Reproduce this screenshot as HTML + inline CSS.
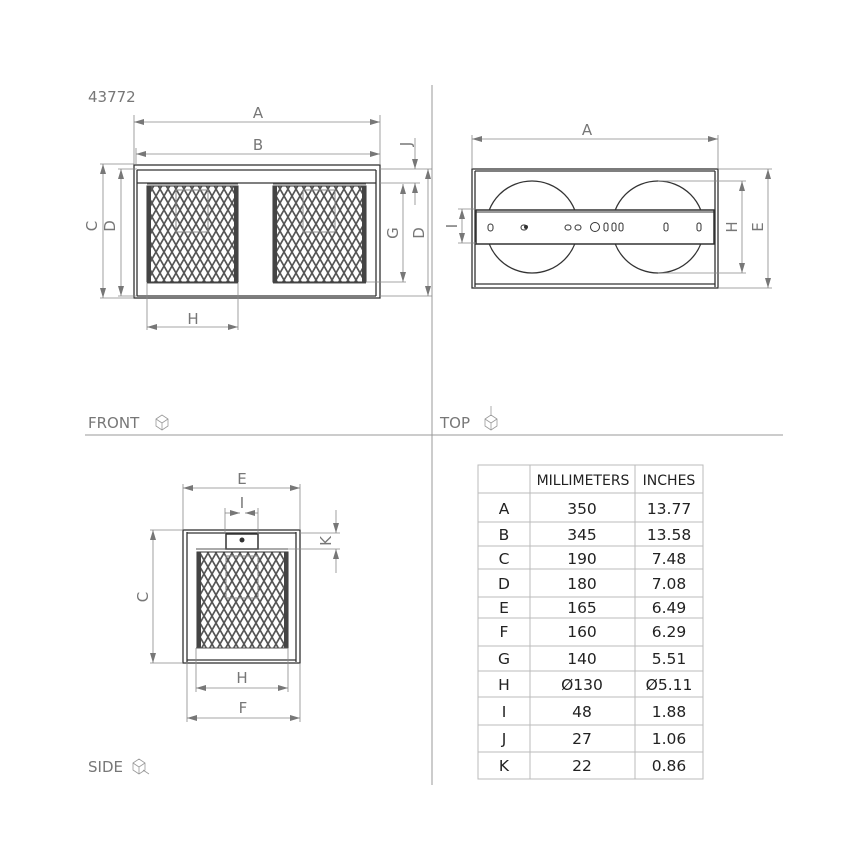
<!DOCTYPE html>
<html><head><meta charset="utf-8"><style>
html,body{margin:0;padding:0;background:#fff;}
svg{display:block;font-family:"DejaVu Sans","Liberation Sans",sans-serif;}
</style></head><body>
<svg width="868" height="868" viewBox="0 0 868 868" xmlns="http://www.w3.org/2000/svg">
<defs>
<pattern id="mesh" x="0" y="0" width="8" height="14" patternUnits="userSpaceOnUse">
<path d="M4,0 L8,7 L4,14 L0,7 Z" fill="none" stroke="#555" stroke-width="1.7"/>
</pattern>
<marker id="ar" viewBox="0 0 10 6" refX="10" refY="3" markerWidth="10" markerHeight="6" orient="auto-start-reverse" markerUnits="userSpaceOnUse">
<path d="M0,0 L10,3 L0,6 Z" fill="#777"/>
</marker>
</defs>
<g stroke="#999" stroke-width="1" fill="none">
<line x1="432" y1="85" x2="432" y2="785"/>
<line x1="85" y1="435" x2="783" y2="435"/>
</g>
<g font-size="15" fill="#777">
<text x="88" y="102">43772</text>
<text x="88" y="428">FRONT</text>
<text x="440" y="428">TOP</text>
<text x="88" y="772">SIDE</text>
</g>
<g stroke="#999" fill="none" stroke-width="0.8">
<path d="M156,419 l6,-4 l6,4 v7 l-6,4 l-6,-4 z M156,419 l6,4 l6,-4 M162,423 v7"/>
<path d="M485,419 l6,-4 l6,4 v7 l-6,4 l-6,-4 z M485,419 l6,4 l6,-4 M491,423 v7 M491,406 v10"/>
<path d="M133,763 l6,-4 l6,4 v7 l-6,4 l-6,-4 z M133,763 l6,4 l6,-4 M139,767 v7 M143,770 l6,4"/>
</g>

<!-- FRONT -->
<g stroke="#333" fill="none" stroke-width="1.3">
<rect x="134" y="165" width="246" height="133"/>
<line x1="137" y1="170" x2="376" y2="170"/>
<line x1="137" y1="170" x2="137" y2="296"/>
<line x1="376" y1="170" x2="376" y2="296"/>
<line x1="137" y1="183" x2="376" y2="183"/>
<line x1="137" y1="296" x2="376" y2="296"/>
</g>
<rect x="147" y="186" width="91" height="96" fill="url(#mesh)" stroke="#333"/>
<rect x="273" y="186" width="93" height="96" fill="url(#mesh)" stroke="#333"/>
<g fill="#444">
<rect x="147" y="186" width="4" height="96"/><rect x="234" y="186" width="4" height="96"/>
<rect x="273" y="186" width="4" height="96"/><rect x="362" y="186" width="4" height="96"/>
</g>
<g stroke="#888" fill="none" stroke-width="1">
<rect x="176" y="190" width="32" height="42"/><rect x="303" y="190" width="32" height="42"/>
</g>
<g stroke="#555" fill="none" stroke-width="1">
<line x1="147" y1="184" x2="238" y2="184"/><line x1="147" y1="283" x2="238" y2="283"/>
<line x1="273" y1="184" x2="366" y2="184"/><line x1="273" y1="283" x2="366" y2="283"/>
</g>
<g stroke="#888" fill="none" stroke-width="0.8">
<line x1="134" y1="115" x2="134" y2="164"/><line x1="380" y1="115" x2="380" y2="164"/>
<line x1="136" y1="148" x2="136" y2="164"/>
<line x1="100" y1="164" x2="134" y2="164"/><line x1="100" y1="298" x2="134" y2="298"/>
<line x1="118" y1="169" x2="137" y2="169"/><line x1="118" y1="296" x2="137" y2="296"/>
<line x1="380" y1="169" x2="432" y2="169"/><line x1="380" y1="183" x2="420" y2="183"/>
<line x1="366" y1="282" x2="406" y2="282"/><line x1="380" y1="296" x2="432" y2="296"/>
<line x1="147" y1="283" x2="147" y2="330"/><line x1="238" y1="283" x2="238" y2="330"/>
</g>
<g stroke="#888" stroke-width="0.8" marker-start="url(#ar)" marker-end="url(#ar)">
<line x1="134" y1="122" x2="380" y2="122"/>
<line x1="136" y1="154" x2="380" y2="154"/>
<line x1="103" y1="164" x2="103" y2="298"/>
<line x1="121" y1="169" x2="121" y2="296"/>
<line x1="403" y1="184" x2="403" y2="282"/>
<line x1="428" y1="169" x2="428" y2="296"/>
<line x1="147" y1="327" x2="238" y2="327"/>
</g>
<g stroke="#888" stroke-width="0.8">
<line x1="415" y1="138" x2="415" y2="169" marker-end="url(#ar)"/>
<line x1="415" y1="205" x2="415" y2="183" marker-end="url(#ar)"/>
</g>
<g font-size="15" fill="#777" text-anchor="middle">
<text x="258" y="118">A</text>
<text x="258" y="150">B</text>
<text x="193" y="324">H</text>
<text transform="translate(97,226) rotate(-90)">C</text>
<text transform="translate(115,226) rotate(-90)">D</text>
<text transform="translate(398,233) rotate(-90)">G</text>
<text transform="translate(424,233) rotate(-90)">D</text>
<text transform="translate(411,144) rotate(-90)">J</text>
</g>

<!-- TOP -->
<g stroke="#333" fill="none" stroke-width="1.3">
<rect x="472" y="169" width="246" height="119"/>
<line x1="475" y1="171" x2="715" y2="171"/>
<line x1="475" y1="171" x2="475" y2="287"/>
<line x1="715" y1="171" x2="715" y2="287"/>
<line x1="475" y1="284" x2="715" y2="284"/>
<circle cx="532" cy="227" r="46"/>
<circle cx="658" cy="227" r="46"/>
</g>
<rect x="476" y="210" width="238" height="34" fill="#fff" stroke="#333" stroke-width="1.5"/>
<line x1="476" y1="212" x2="714" y2="212" stroke="#333"/>
<g stroke="#333" fill="none" stroke-width="1">
<rect x="488" y="224" width="5" height="7" rx="2.5"/>
<rect x="521" y="225" width="6" height="5" rx="2.5"/>
<rect x="565" y="225" width="6" height="5" rx="2.5"/>
<rect x="575" y="225" width="6" height="5" rx="2.5"/>
<circle cx="595" cy="227" r="4.5"/>
<rect x="604" y="223" width="4" height="8" rx="2"/>
<rect x="612" y="223" width="4" height="8" rx="2"/>
<rect x="619" y="223" width="4" height="8" rx="2"/>
<rect x="664" y="223" width="4" height="8" rx="2"/>
<rect x="697" y="223" width="4" height="8" rx="2"/>
</g>
<circle cx="526" cy="227" r="2" fill="#333"/>
<g stroke="#888" fill="none" stroke-width="0.8">
<line x1="472" y1="135" x2="472" y2="169"/><line x1="718" y1="135" x2="718" y2="169"/>
<line x1="658" y1="181" x2="746" y2="181"/><line x1="658" y1="273" x2="746" y2="273"/>
<line x1="718" y1="169" x2="772" y2="169"/><line x1="718" y1="288" x2="772" y2="288"/>
<line x1="458" y1="209" x2="476" y2="209"/><line x1="458" y1="243" x2="476" y2="243"/>
</g>
<g stroke="#888" stroke-width="0.8" marker-start="url(#ar)" marker-end="url(#ar)">
<line x1="472" y1="139" x2="718" y2="139"/>
<line x1="742" y1="181" x2="742" y2="273"/>
<line x1="768" y1="169" x2="768" y2="288"/>
<line x1="462" y1="209" x2="462" y2="243"/>
</g>
<g font-size="15" fill="#777" text-anchor="middle">
<text x="587" y="135">A</text>
<text transform="translate(737,227) rotate(-90)">H</text>
<text transform="translate(763,227) rotate(-90)">E</text>
<text transform="translate(457,226) rotate(-90)">I</text>
</g>

<!-- SIDE -->
<g stroke="#333" fill="none" stroke-width="1.3">
<rect x="183" y="530" width="117" height="133"/>
<line x1="187" y1="532" x2="187" y2="662"/>
<line x1="296" y1="532" x2="296" y2="662"/>
<line x1="187" y1="533" x2="296" y2="533"/>
<line x1="187" y1="660" x2="296" y2="660"/>
</g>
<rect x="226" y="534" width="32" height="15" fill="#fff" stroke="#333" stroke-width="1.5"/>
<circle cx="242" cy="540" r="2.5" fill="#333"/>
<rect x="197" y="552" width="91" height="96" fill="url(#mesh)" stroke="#333"/>
<g fill="#444"><rect x="197" y="552" width="4" height="96"/><rect x="284" y="552" width="4" height="96"/></g>
<rect x="226" y="556" width="32" height="42" fill="none" stroke="#888"/>
<g stroke="#555" fill="none">
<line x1="196" y1="549" x2="288" y2="549"/><line x1="196" y1="648" x2="288" y2="648"/>
</g>
<g stroke="#888" fill="none" stroke-width="0.8">
<line x1="183" y1="484" x2="183" y2="530"/><line x1="300" y1="484" x2="300" y2="530"/>
<line x1="225" y1="508" x2="225" y2="534"/><line x1="258" y1="508" x2="258" y2="534"/>
<line x1="150" y1="530" x2="183" y2="530"/><line x1="150" y1="663" x2="183" y2="663"/>
<line x1="300" y1="533" x2="340" y2="533"/><line x1="288" y1="549" x2="340" y2="549"/>
<line x1="196" y1="648" x2="196" y2="692"/><line x1="288" y1="648" x2="288" y2="692"/>
<line x1="187" y1="663" x2="187" y2="722"/><line x1="300" y1="663" x2="300" y2="722"/>
</g>
<g stroke="#888" stroke-width="0.8" marker-start="url(#ar)" marker-end="url(#ar)">
<line x1="183" y1="488" x2="300" y2="488"/>
<line x1="153" y1="530" x2="153" y2="663"/>
<line x1="196" y1="688" x2="288" y2="688"/>
<line x1="187" y1="718" x2="300" y2="718"/>
</g>
<g stroke="#888" stroke-width="0.8">
<line x1="225" y1="513" x2="240" y2="513" marker-end="url(#ar)"/>
<line x1="258" y1="513" x2="245" y2="513" marker-end="url(#ar)"/>
<line x1="336" y1="510" x2="336" y2="533" marker-end="url(#ar)"/>
<line x1="336" y1="573" x2="336" y2="549" marker-end="url(#ar)"/>
</g>
<g font-size="15" fill="#777" text-anchor="middle">
<text x="242" y="484">E</text>
<text x="242" y="508">I</text>
<text x="242" y="683">H</text>
<text x="243" y="713">F</text>
<text transform="translate(148,597) rotate(-90)">C</text>
<text transform="translate(331,541) rotate(-90)">K</text>
</g>

<!-- TABLE -->
<g stroke="#bbb" stroke-width="1" fill="none">
<rect x="478" y="465" width="225" height="314"/>
<line x1="530" y1="465" x2="530" y2="779"/>
<line x1="635" y1="465" x2="635" y2="779"/>
<line x1="478" y1="493" x2="703" y2="493"/>
<line x1="478" y1="522" x2="703" y2="522"/>
<line x1="478" y1="546" x2="703" y2="546"/>
<line x1="478" y1="569" x2="703" y2="569"/>
<line x1="478" y1="597" x2="703" y2="597"/>
<line x1="478" y1="618" x2="703" y2="618"/>
<line x1="478" y1="646" x2="703" y2="646"/>
<line x1="478" y1="671" x2="703" y2="671"/>
<line x1="478" y1="697" x2="703" y2="697"/>
<line x1="478" y1="725" x2="703" y2="725"/>
<line x1="478" y1="752" x2="703" y2="752"/>
</g>
<g font-size="15.5" fill="#222" text-anchor="middle">
<text x="583" y="485" font-size="14">MILLIMETERS</text><text x="669" y="485" font-size="14">INCHES</text>
<text x="504" y="514">A</text><text x="582" y="514">350</text><text x="669" y="514">13.77</text>
<text x="504" y="540">B</text><text x="582" y="540">345</text><text x="669" y="540">13.58</text>
<text x="504" y="564">C</text><text x="582" y="564">190</text><text x="669" y="564">7.48</text>
<text x="504" y="589">D</text><text x="582" y="589">180</text><text x="669" y="589">7.08</text>
<text x="504" y="613">E</text><text x="582" y="613">165</text><text x="669" y="613">6.49</text>
<text x="504" y="637">F</text><text x="582" y="637">160</text><text x="669" y="637">6.29</text>
<text x="504" y="664">G</text><text x="582" y="664">140</text><text x="669" y="664">5.51</text>
<text x="504" y="690">H</text><text x="582" y="690">Ø130</text><text x="669" y="690">Ø5.11</text>
<text x="504" y="717">I</text><text x="582" y="717">48</text><text x="669" y="717">1.88</text>
<text x="504" y="744">J</text><text x="582" y="744">27</text><text x="669" y="744">1.06</text>
<text x="504" y="771">K</text><text x="582" y="771">22</text><text x="669" y="771">0.86</text>
</g>
</svg>
</body></html>
